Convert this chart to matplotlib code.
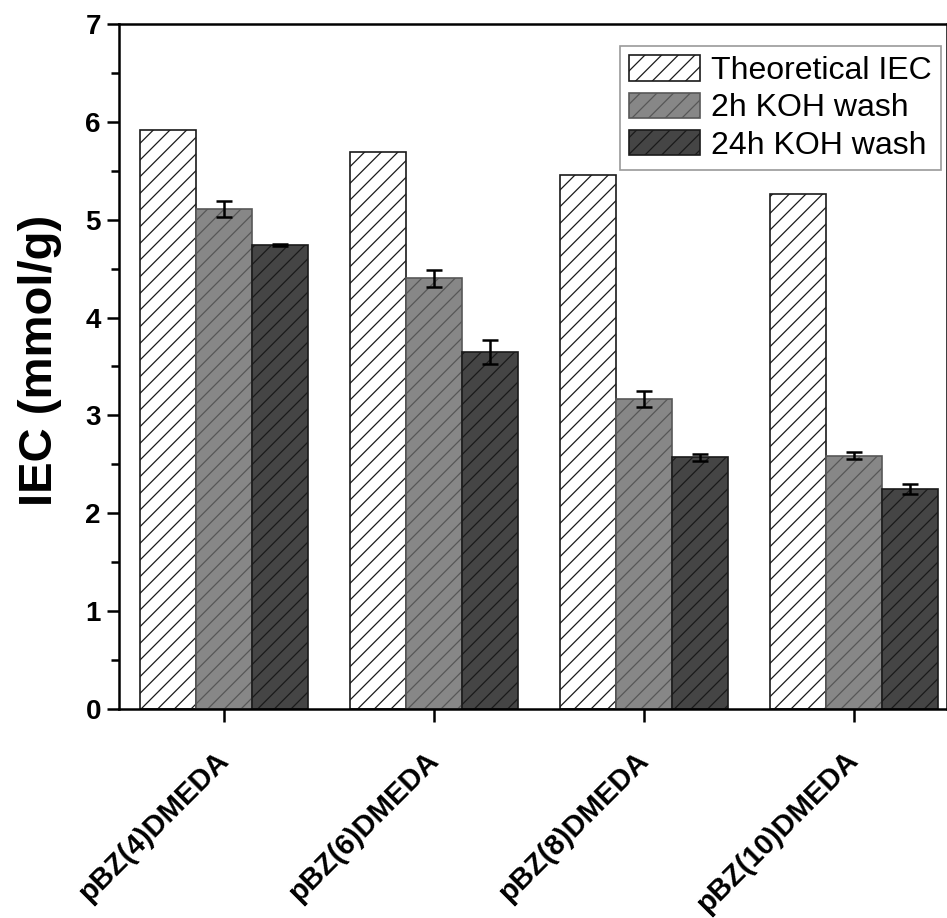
import matplotlib
matplotlib.use("Agg")
import matplotlib.pyplot as plt
import numpy as np

categories = ["pBZ(4)DMEDA", "pBZ(6)DMEDA", "pBZ(8)DMEDA", "pBZ(10)DMEDA"]
series_names = ["Theoretical IEC", "2h KOH wash", "24h KOH wash"]
theoretical = [5.92, 5.69, 5.46, 5.26]
wash_2h = [5.11, 4.40, 3.17, 2.59]
wash_2h_err = [0.08, 0.09, 0.08, 0.04]
wash_24h = [4.74, 3.65, 2.57, 2.25]
wash_24h_err = [0.01, 0.12, 0.035, 0.05]
y_ticks = [0, 1, 2, 3, 4, 5, 6, 7]

plt.rcParams['font.family'] = ['Liberation Sans', 'DejaVu Sans']
plt.rcParams['hatch.linewidth'] = 0.9

fig = plt.figure(figsize=(9.47, 9.18), dpi=100)
ax = fig.add_axes([119/947, 0.2277, 1 - 119/947, 0.9739 - 0.2277])

x = np.arange(1, len(categories) + 1)
w = 0.8 / 3

ax.bar(x - w, theoretical, w, facecolor='white', edgecolor='#1a1a1a',
       hatch='//', linewidth=1.2, label=series_names[0])
ax.bar(x, wash_2h, w, facecolor='#878787', edgecolor='#575757',
       hatch='//', linewidth=1.2, label=series_names[1])
ax.bar(x + w, wash_24h, w, facecolor='#454545', edgecolor='#1a1a1a',
       hatch='//', linewidth=1.2, label=series_names[2])

ax.errorbar(x, wash_2h, yerr=wash_2h_err, fmt='none', ecolor='black',
            elinewidth=1.8, capsize=6, capthick=1.8)
ax.errorbar(x + w, wash_24h, yerr=wash_24h_err, fmt='none', ecolor='black',
            elinewidth=1.8, capsize=6, capthick=1.8)

ax.set_xlim(0.5, 0.5 + (947 - 119) / 210)
ax.set_ylim(0, 7)
ax.set_yticks(y_ticks)
ax.set_yticks(np.arange(0.5, 7, 1.0), minor=True)
ax.set_yticklabels([str(t) for t in y_ticks], fontsize=20, fontweight='bold')
ax.set_xticks(x)
ax.set_xticklabels(categories, rotation=45, ha='right', va='center',
                   rotation_mode='anchor', fontsize=21, fontweight='bold')

for s in ax.spines.values():
    s.set_linewidth(1.8)

ax.tick_params(axis='y', which='major', direction='out', length=9, width=1.8, pad=4)
ax.tick_params(axis='y', which='minor', direction='out', length=6, width=1.8)
ax.tick_params(axis='x', which='major', direction='out', length=9, width=1.8, pad=25)

ax.set_ylabel("IEC (mmol/g)", fontsize=34, fontweight='bold')
ax.yaxis.set_label_coords(-0.069, 0.509)

leg = ax.legend(loc='upper right', bbox_to_anchor=(0.993, 0.968), fontsize=23,
                frameon=True, fancybox=False, edgecolor='#808080',
                handlelength=2.2, handleheight=0.85, handletextpad=0.35,
                borderpad=0.3, labelspacing=0.2, borderaxespad=0.0)
leg.get_frame().set_linewidth(1.2)

fig.savefig("out.png", dpi=100)
